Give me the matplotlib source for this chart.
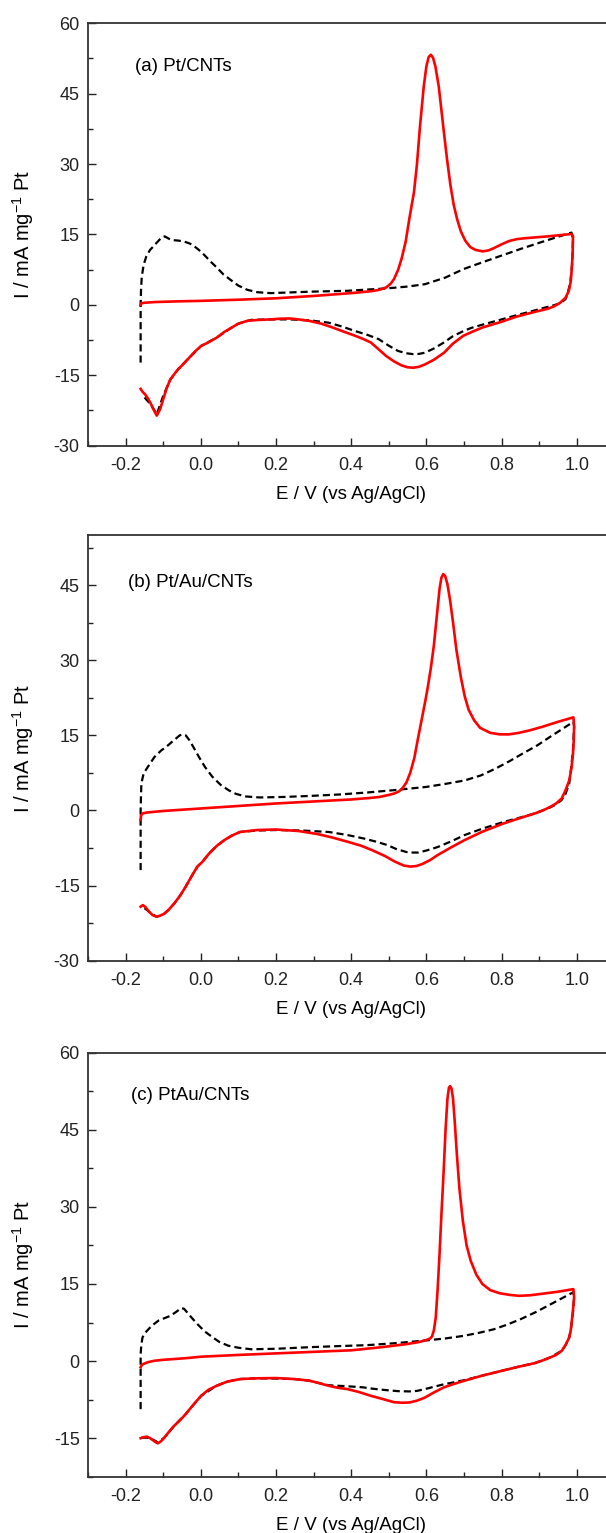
import matplotlib
matplotlib.use('Agg')
import matplotlib.pyplot as plt
from matplotlib.ticker import MultipleLocator

plt.rcParams['font.family'] = ['Liberation Sans', 'DejaVu Sans']
plt.rcParams['mathtext.fontset'] = 'custom'
plt.rcParams['mathtext.rm'] = 'Liberation Sans'
plt.rcParams['mathtext.default'] = 'regular'
plt.rcParams['axes.unicode_minus'] = False

# Panel (a) Pt/CNTs -- red solid curve (forward then reverse scan)
a_red_E = [-0.16, -0.159, -0.15, -0.122, -0.06, 0.0, 0.1, 0.2, 0.3, 0.4, 0.452, 0.475, 0.493, 0.505,
           0.514, 0.525, 0.534, 0.545, 0.555, 0.567, 0.575, 0.583, 0.593, 0.600, 0.606, 0.612,
           0.618, 0.624, 0.633, 0.640, 0.647, 0.655, 0.664, 0.673, 0.682, 0.692, 0.704, 0.717,
           0.731, 0.75, 0.765, 0.78, 0.80, 0.82, 0.84, 0.862, 0.924, 0.986,
           0.99, 0.989, 0.987, 0.984, 0.979, 0.97, 0.955, 0.94, 0.924, 0.883, 0.84, 0.80, 0.75,
           0.72, 0.698, 0.67, 0.647, 0.62, 0.596, 0.58, 0.565, 0.55, 0.534, 0.515, 0.493, 0.472,
           0.452, 0.43, 0.411, 0.38, 0.35, 0.32, 0.288, 0.26, 0.237, 0.21, 0.186, 0.155, 0.124,
           0.10, 0.083, 0.062, 0.042, 0.02, 0.001, -0.015, -0.03, -0.045, -0.06, -0.07, -0.081,
           -0.09, -0.1, -0.108, -0.117, -0.125, -0.132, -0.14, -0.148, -0.155, -0.16]
a_red_I = [0.0, 0.3, 0.45, 0.6, 0.75, 0.85, 1.1, 1.4, 1.9, 2.5, 2.9, 3.2, 3.7, 4.5,
           5.5, 7.5, 9.8, 13.5, 18.5, 24.0, 30.0, 38.0, 46.5, 50.8, 52.8, 53.3,
           52.6, 50.8, 46.5, 41.5, 36.5, 31.0, 25.5, 21.2, 18.2, 15.6, 13.6, 12.3,
           11.7, 11.4, 11.6, 12.1, 12.9, 13.6, 14.0, 14.2, 14.6, 15.1,
           14.7, 11.0, 8.0, 5.0, 3.0, 1.5, 0.4, -0.3, -0.8, -1.6, -2.5, -3.6, -4.8,
           -5.8, -6.6, -8.3, -10.2, -11.7, -12.7, -13.2, -13.4, -13.3, -12.9, -12.1, -10.9, -9.4,
           -8.0, -7.2, -6.6, -5.7, -4.8, -4.0, -3.4, -3.1, -2.9, -2.95, -3.1, -3.2, -3.4,
           -4.0, -4.8, -5.8, -7.0, -8.0, -8.75, -9.9, -11.2, -12.5, -13.7, -14.7, -15.9,
           -17.6, -20.1, -22.2, -23.6, -22.4, -21.2, -20.0, -19.1, -18.5, -17.9]
# Panel (a) black dashed curve
a_blk_E = [-0.16, -0.16, -0.159, -0.157, -0.152, -0.145, -0.135, -0.12, -0.105, -0.096, -0.085,
           -0.076, -0.06, -0.045, -0.03, -0.019, -0.005, 0.011, 0.025, 0.042, 0.06, 0.083, 0.10,
           0.124, 0.15, 0.186, 0.288, 0.39, 0.493, 0.55, 0.596, 0.65, 0.698, 0.75, 0.8, 0.85,
           0.903, 0.95, 0.986,
           0.99, 0.988, 0.983, 0.975, 0.97, 0.955, 0.934, 0.91, 0.883, 0.84, 0.80, 0.75, 0.72,
           0.698, 0.67, 0.647, 0.62, 0.596, 0.58, 0.565, 0.545, 0.524, 0.50, 0.473, 0.44, 0.411,
           0.375, 0.34, 0.29, 0.237, 0.186, 0.134, 0.10, 0.083, 0.042, 0.001, -0.03, -0.06,
           -0.081, -0.1, -0.117, -0.127, -0.137, -0.153]
a_blk_I = [-12.3, 0.0, 3.0, 6.0, 8.5, 10.3, 11.7, 13.0, 14.3, 14.6, 14.1,
           13.8, 13.7, 13.5, 13.1, 12.6, 11.7, 10.5, 9.3, 8.0, 6.5, 5.1, 4.1,
           3.2, 2.7, 2.5, 2.8, 3.0, 3.5, 3.9, 4.4, 5.8, 7.6, 9.1, 10.5, 11.9,
           13.3, 14.5, 15.4,
           14.0, 9.0, 4.8, 2.2, 1.2, 0.3, -0.2, -0.7, -1.3, -2.2, -3.1, -4.2, -4.9,
           -5.6, -6.7, -8.0, -9.3, -10.2, -10.45, -10.5, -10.3, -9.8, -8.7, -7.3, -6.3, -5.6,
           -4.6, -3.8, -3.3, -3.1, -3.1, -3.2, -4.0, -4.8, -7.0, -8.75, -11.2, -13.7,
           -15.9, -19.4, -23.3, -22.0, -20.9, -19.4]

# Panel (b) Pt/Au/CNTs
b_red_E = [-0.16, -0.159, -0.155, -0.143, -0.1, -0.05, 0.0, 0.1, 0.2, 0.3, 0.4, 0.45, 0.475, 0.5,
           0.515, 0.527, 0.537, 0.547, 0.557, 0.568, 0.578, 0.589, 0.597, 0.604, 0.612, 0.62,
           0.628, 0.635, 0.640, 0.645, 0.650, 0.656, 0.663, 0.671, 0.68, 0.692, 0.702, 0.712,
           0.727, 0.743, 0.77, 0.795, 0.82, 0.846, 0.875, 0.908, 0.95, 0.991,
           0.993, 0.992, 0.99, 0.986, 0.98, 0.97, 0.96, 0.945, 0.929, 0.91, 0.888, 0.85, 0.805,
           0.75, 0.702, 0.665, 0.63, 0.61, 0.589, 0.573, 0.558, 0.54, 0.516, 0.49, 0.455, 0.425,
           0.393, 0.35, 0.31, 0.26, 0.2, 0.15, 0.104, 0.083, 0.063, 0.042, 0.022, 0.005, -0.009,
           -0.025, -0.04, -0.055, -0.071, -0.085, -0.097, -0.108, -0.118, -0.128, -0.138,
           -0.147, -0.154, -0.16]
b_red_I = [-1.9, -1.0, -0.6, -0.4, -0.1, 0.15, 0.4, 0.9, 1.4, 1.8, 2.2, 2.5, 2.7, 3.1,
           3.4, 3.8, 4.5, 5.6, 7.5, 10.5, 14.5, 18.7, 21.8, 24.7, 28.5, 33.0,
           39.0, 44.2, 46.5, 47.2, 46.8, 45.2, 42.0, 37.5, 32.0, 26.5, 22.8, 20.2,
           18.0, 16.5, 15.5, 15.2, 15.2, 15.5, 16.0, 16.7, 17.7, 18.6,
           17.0, 14.0, 11.4, 8.5, 6.0, 4.0, 2.4, 1.4, 0.7, 0.0, -0.6, -1.5, -2.6,
           -4.2, -5.9, -7.4, -8.9, -9.9, -10.7, -11.1, -11.2, -11.0, -10.2, -9.1, -7.9, -7.0,
           -6.3, -5.4, -4.7, -4.1, -3.8, -3.9, -4.3, -5.0, -5.9, -7.1, -8.6, -10.2, -11.2,
           -13.2, -15.2, -17.0, -18.6, -19.8, -20.6, -21.0, -21.2, -20.9, -20.2,
           -19.3, -18.9, -19.2]
b_blk_E = [-0.16, -0.16, -0.159, -0.158, -0.152, -0.14, -0.123, -0.105, -0.092, -0.075, -0.056,
           -0.048, -0.04, -0.03, -0.02, -0.005, 0.011, 0.03, 0.053, 0.075, 0.094, 0.12, 0.156,
           0.22, 0.29, 0.37, 0.444, 0.52, 0.599, 0.65, 0.702, 0.745, 0.785, 0.82, 0.857, 0.895,
           0.929, 0.96, 0.991,
           0.993, 0.99, 0.985, 0.98, 0.97, 0.96, 0.945, 0.929, 0.888, 0.85, 0.805, 0.75, 0.702,
           0.665, 0.63, 0.60, 0.578, 0.56, 0.547, 0.52, 0.496, 0.465, 0.434, 0.39, 0.341, 0.27,
           0.2, 0.15, 0.104, 0.083, 0.063, 0.042, 0.022, 0.005, -0.009, -0.025, -0.04, -0.055,
           -0.071, -0.085, -0.097, -0.108, -0.118, -0.13, -0.148, -0.16]
b_blk_I = [-11.9, 0.0, 3.0, 5.4, 7.4, 8.8, 10.7, 12.0, 12.7, 13.8, 15.0,
           15.2, 15.0, 14.0, 12.7, 10.7, 8.7, 6.8, 5.1, 4.0, 3.3, 2.8, 2.6,
           2.7, 2.9, 3.2, 3.6, 4.1, 4.7, 5.3, 6.0, 7.0, 8.4, 9.8, 11.4, 13.0,
           14.7, 16.2, 17.7,
           16.7, 12.0, 8.5, 5.4, 3.3, 2.1, 1.2, 0.6, -0.6, -1.4, -2.3, -3.6, -4.9,
           -6.2, -7.3, -8.0, -8.4, -8.4, -8.3, -7.7, -6.9, -6.2, -5.6, -4.9, -4.3, -4.0,
           -3.9, -4.0, -4.3, -5.0, -5.9, -7.1, -8.6, -10.2, -11.2, -13.2, -15.2, -17.0,
           -18.6, -19.8, -20.6, -21.0, -21.2, -20.6, -19.6, -19.6]

# Panel (c) PtAu/CNTs
c_red_E = [-0.16, -0.157, -0.154, -0.14, -0.123, -0.1, -0.071, -0.035, 0.0, 0.1, 0.2, 0.3, 0.4,
           0.48, 0.547, 0.58, 0.6, 0.61, 0.615, 0.62, 0.625, 0.63, 0.635, 0.64, 0.646, 0.651,
           0.656, 0.660, 0.663, 0.667, 0.671, 0.676, 0.681, 0.688, 0.697, 0.707, 0.718, 0.733,
           0.749, 0.77, 0.795, 0.82, 0.846, 0.875, 0.908, 0.95, 0.991,
           0.993, 0.99, 0.987, 0.984, 0.98, 0.97, 0.96, 0.945, 0.929, 0.91, 0.888, 0.845, 0.8,
           0.75, 0.702, 0.675, 0.647, 0.62, 0.596, 0.575, 0.555, 0.535, 0.514, 0.485, 0.452,
           0.42, 0.39, 0.365, 0.34, 0.31, 0.288, 0.25, 0.2, 0.15, 0.104, 0.07, 0.042, 0.02,
           0.001, -0.02, -0.04, -0.055, -0.071, -0.085, -0.097, -0.106, -0.114, -0.12, -0.127,
           -0.135, -0.143, -0.152, -0.16]
c_red_I = [-1.2, -0.8, -0.6, -0.2, 0.07, 0.25, 0.4, 0.6, 0.85, 1.2, 1.5, 1.8, 2.1,
           2.7, 3.3, 3.7, 4.1, 4.4, 4.8, 6.0, 8.5, 14.0, 20.8, 28.5, 37.0, 45.0,
           51.0, 53.2, 53.5, 53.0, 51.0, 46.0, 40.3, 33.5, 27.3, 22.5, 19.5, 16.8,
           15.0, 13.8, 13.2, 12.9, 12.7, 12.8, 13.1, 13.5, 14.0,
           12.4, 10.0, 7.9, 6.0, 4.6, 3.1, 2.0, 1.2, 0.7, 0.15, -0.4, -1.1, -1.9,
           -2.8, -3.8, -4.4, -5.1, -6.1, -7.1, -7.7, -8.05, -8.1, -8.0, -7.4, -6.75,
           -6.0, -5.45, -5.2, -4.8, -4.2, -3.8, -3.5, -3.3, -3.35, -3.5, -4.0, -4.8, -5.6,
           -6.75, -8.5, -10.3, -11.5, -12.6, -13.8, -14.9, -15.6, -16.0, -15.8, -15.4,
           -15.0, -14.7, -14.8, -15.0]
c_blk_E = [-0.16, -0.16, -0.158, -0.155, -0.149, -0.143, -0.13, -0.112, -0.095, -0.081, -0.065,
           -0.052, -0.045, -0.04, -0.025, -0.009, 0.01, 0.032, 0.05, 0.073, 0.1, 0.134, 0.2,
           0.288, 0.36, 0.442, 0.52, 0.596, 0.65, 0.698, 0.74, 0.78, 0.815, 0.852, 0.89, 0.924,
           0.96, 0.991,
           0.993, 0.99, 0.985, 0.98, 0.97, 0.96, 0.929, 0.888, 0.845, 0.8, 0.75, 0.702, 0.675,
           0.647, 0.62, 0.596, 0.575, 0.555, 0.525, 0.493, 0.46, 0.431, 0.39, 0.34, 0.31, 0.288,
           0.25, 0.2, 0.15, 0.104, 0.07, 0.042, 0.001, -0.04, -0.071, -0.097, -0.114, -0.127,
           -0.143, -0.16]
c_blk_I = [-9.35, 1.4, 3.2, 4.6, 5.4, 5.9, 6.9, 7.9, 8.4, 8.8, 9.6,
           10.3, 10.2, 9.8, 8.5, 7.2, 5.8, 4.6, 3.7, 3.0, 2.6, 2.3, 2.4,
           2.7, 2.9, 3.1, 3.5, 4.0, 4.4, 4.9, 5.5, 6.2, 7.1, 8.2, 9.5, 10.8,
           12.2, 13.4,
           12.4, 9.5, 6.5, 4.6, 3.1, 2.0, 0.7, -0.4, -1.1, -1.9, -2.8, -3.7, -4.1,
           -4.5, -5.0, -5.45, -5.8, -5.9, -5.85, -5.65, -5.4, -5.1, -4.9, -4.7, -4.2, -3.8,
           -3.5, -3.4, -3.35, -3.5, -4.0, -4.8, -6.75, -10.3, -12.6, -14.9, -15.8, -15.3,
           -14.9, -14.9]

panels = [
    ('(a) Pt/CNTs', (-0.175, 50.7), a_red_E, a_red_I, a_blk_E, a_blk_I, (-30, 60)),
    ('(b) Pt/Au/CNTs', (-0.194, 45.6), b_red_E, b_red_I, b_blk_E, b_blk_I, (-30, 55)),
    ('(c) PtAu/CNTs', (-0.186, 51.7), c_red_E, c_red_I, c_blk_E, c_blk_I, (-22.5, 60)),
]

# axes boxes in figure fraction (left, bottom, width, height)
boxes = [(0.1452, 0.7093, 0.8686, 0.2755),
         (0.1452, 0.3733, 0.8686, 0.2777),
         (0.1452, 0.0367, 0.8686, 0.2766)]

fig = plt.figure(figsize=(6.06, 15.33), dpi=100)

for (label, pos, rE, rI, kE, kI, ylim), box in zip(panels, boxes):
    ax = fig.add_axes(box)
    ax.plot(kE, kI, color='black', lw=1.6, linestyle=(0, (3.2, 1.8)))
    ax.plot(rE, rI, color='#ff0000', lw=1.9, solid_joinstyle='round')
    ax.set_xlim(-0.3, 1.1)
    ax.set_ylim(*ylim)
    ax.xaxis.set_major_locator(MultipleLocator(0.2))
    ax.xaxis.set_minor_locator(MultipleLocator(0.1))
    ax.yaxis.set_major_locator(MultipleLocator(15))
    ax.yaxis.set_minor_locator(MultipleLocator(7.5))
    ax.xaxis.set_major_formatter(plt.FuncFormatter(lambda v, p: '%.1f' % v))
    ax.yaxis.set_major_formatter(plt.FuncFormatter(lambda v, p: '%d' % round(v)))
    ax.tick_params(which='both', direction='in', top=False, right=False,
                   labelsize=13, width=1.0, colors='#222222')
    ax.tick_params(which='major', length=6, pad=6)
    ax.tick_params(axis='x', which='major', pad=8)
    ax.tick_params(which='minor', length=3.5)
    for s in ax.spines.values():
        s.set_linewidth(1.3)
        s.set_color('#333333')
    ax.spines['right'].set_visible(False)
    ax.text(pos[0], pos[1], label, fontsize=13.5, va='center', ha='left')
    ax.set_xlabel('E / V (vs Ag/AgCl)', fontsize=13.5, labelpad=9)
    ax.set_ylabel('I / mA mg$^{-1}$ Pt', fontsize=14.5)
    ax.yaxis.set_label_coords(-0.098, 0.5)

fig.savefig('out.png', dpi=100)
